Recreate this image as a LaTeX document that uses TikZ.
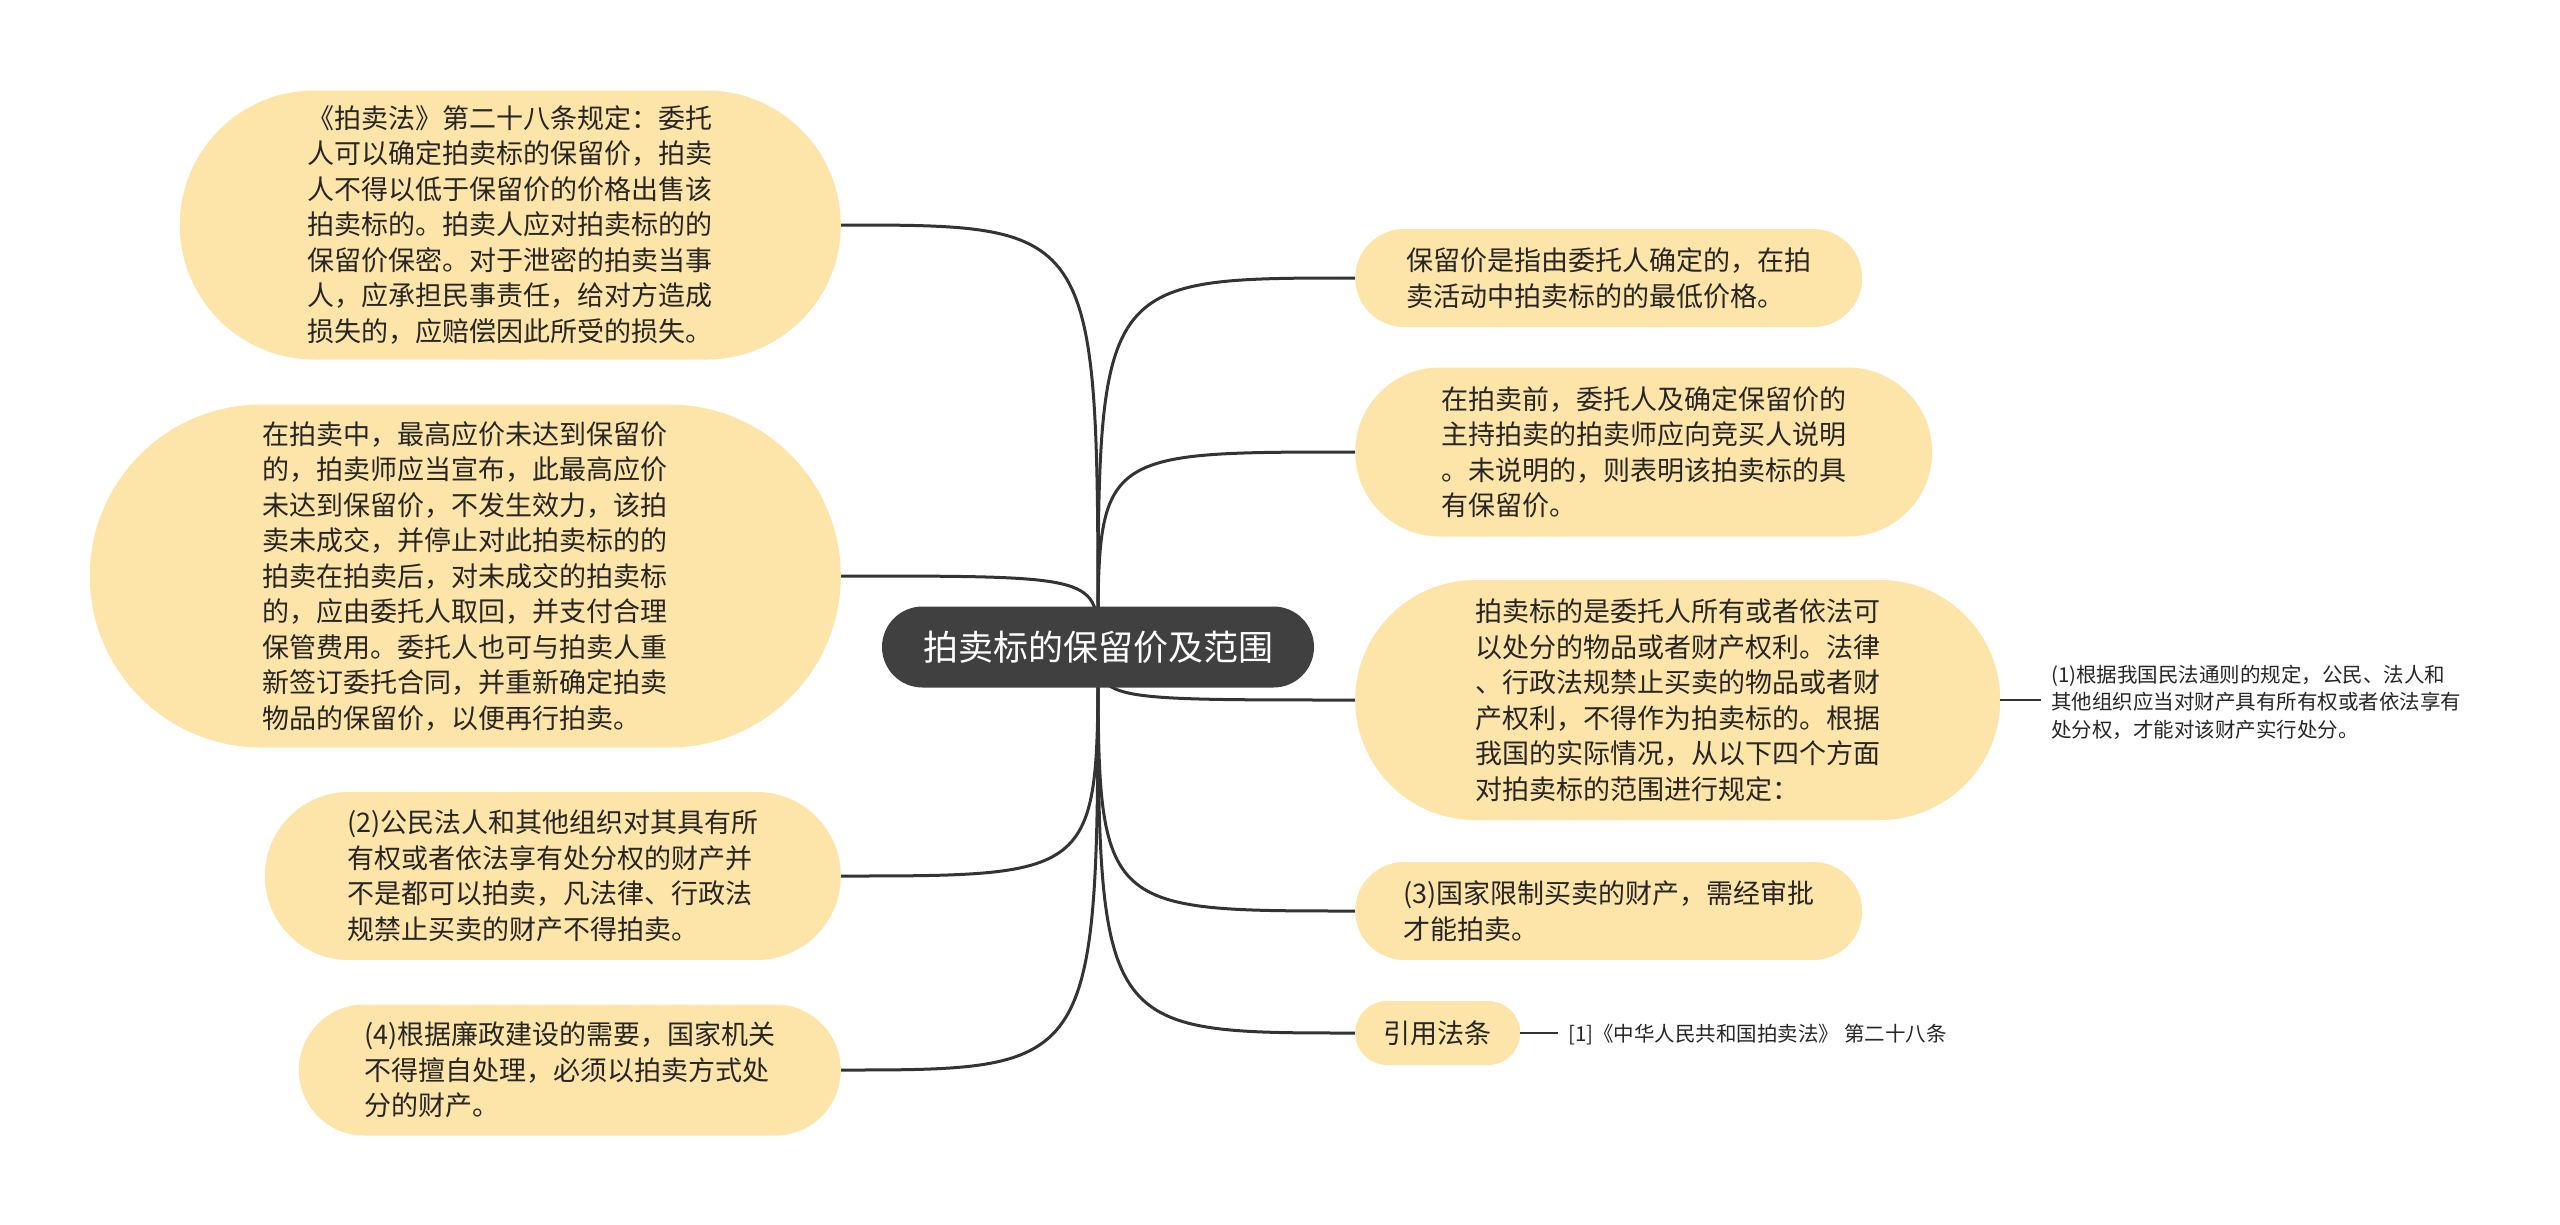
\documentclass[tikz,border=0pt]{standalone}
\usepackage{fontspec}
\setmainfont{Noto Sans CJK SC}
\usetikzlibrary{shapes.misc,backgrounds}

\definecolor{topicfill}{RGB}{253,228,168}
\definecolor{rootfill}{RGB}{64,64,64}
\definecolor{linegray}{RGB}{51,51,51}
\definecolor{textgray}{RGB}{38,38,38}

\tikzset{
  root/.style={rounded rectangle, fill=rootfill, text=white,
    font=\fontsize{35}{40}\selectfont, minimum width=432, minimum height=81, inner sep=0pt},
  topic/.style={rounded rectangle, fill=topicfill, text=textgray,
    font=\fontsize{27}{35.5}\selectfont, align=left, inner sep=0pt},
  leaf/.style={text=textgray, font=\fontsize{20.5}{27.5}\selectfont,
    align=left, inner xsep=10pt, inner ysep=0pt},
  branch/.style={draw=linegray, line width=3pt},
  twig/.style={draw=linegray, line width=2.5pt}
}

\begin{document}
\begin{tikzpicture}[x=1pt,y=-1pt]
    \useasboundingbox (0,0) rectangle (2560,1224);

    \node[root] (root) at (1098,647) {拍卖标的保留价及范围};

    % left side
    \node[topic, minimum width=661, minimum height=269, anchor=east] (lawrule) at (841,225) {《拍卖法》第二十八条规定：委托\\人可以确定拍卖标的保留价，拍卖\\人不得以低于保留价的价格出售该\\拍卖标的。拍卖人应对拍卖标的的\\保留价保密。对于泄密的拍卖当事\\人，应承担民事责任，给对方造成\\损失的，应赔偿因此所受的损失。};
    \node[topic, minimum width=751, minimum height=343, anchor=east] (unsold) at (841,576) {在拍卖中，最高应价未达到保留价\\的，拍卖师应当宣布，此最高应价\\未达到保留价，不发生效力，该拍\\卖未成交，并停止对此拍卖标的的\\拍卖在拍卖后，对未成交的拍卖标\\的，应由委托人取回，并支付合理\\保管费用。委托人也可与拍卖人重\\新签订委托合同，并重新确定拍卖\\物品的保留价，以便再行拍卖。};
    \node[topic, minimum width=576, minimum height=168, anchor=east] (banned) at (841,876) {(2)公民法人和其他组织对其具有所\\有权或者依法享有处分权的财产并\\不是都可以拍卖，凡法律、行政法\\规禁止买卖的财产不得拍卖。};
    \node[topic, minimum width=542, minimum height=131, anchor=east] (official) at (841,1070) {(4)根据廉政建设的需要，国家机关\\不得擅自处理，必须以拍卖方式处\\分的财产。};

    % right side
    \node[topic, minimum width=507, minimum height=98, anchor=west] (meaning) at (1355,278) {保留价是指由委托人确定的，在拍\\卖活动中拍卖标的的最低价格。};
    \node[topic, minimum width=577, minimum height=169, anchor=west] (notice) at (1355,452) {在拍卖前，委托人及确定保留价的\\主持拍卖的拍卖师应向竞买人说明\\。未说明的，则表明该拍卖标的具\\有保留价。};
    \node[topic, minimum width=645, minimum height=240, anchor=west] (scope) at (1355,700) {拍卖标的是委托人所有或者依法可\\以处分的物品或者财产权利。法律\\、行政法规禁止买卖的物品或者财\\产权利，不得作为拍卖标的。根据\\我国的实际情况，从以下四个方面\\对拍卖标的范围进行规定：};
    \node[topic, minimum width=507, minimum height=98, anchor=west] (limited) at (1355,911) {(3)国家限制买卖的财产，需经审批\\才能拍卖。};
    \node[topic, minimum width=165, minimum height=64, anchor=west] (cite) at (1355,1033) {引用法条};

    \node[leaf, anchor=west] (owner) at (2041,702) {(1)根据我国民法通则的规定，公民、法人和\\其他组织应当对财产具有所有权或者依法享有\\处分权，才能对该财产实行处分。};
    \node[leaf, anchor=west] (source) at (1558,1035) {[1]《中华人民共和国拍卖法》 第二十八条};

    \begin{pgfonlayer}{background}
        \foreach \n in {lawrule,unsold,banned,official}
            \draw[branch] (root.center) .. controls (root.center |- \n.east) .. (\n.east);
        \foreach \n in {meaning,notice,scope,limited,cite}
            \draw[branch] (root.center) .. controls (root.center |- \n.west) .. (\n.west);
    \end{pgfonlayer}
    \draw[twig] (scope.east) -- (scope.east -| owner.west);
    \draw[twig] (cite.east) -- (cite.east -| source.west);
\end{tikzpicture}
\end{document}
